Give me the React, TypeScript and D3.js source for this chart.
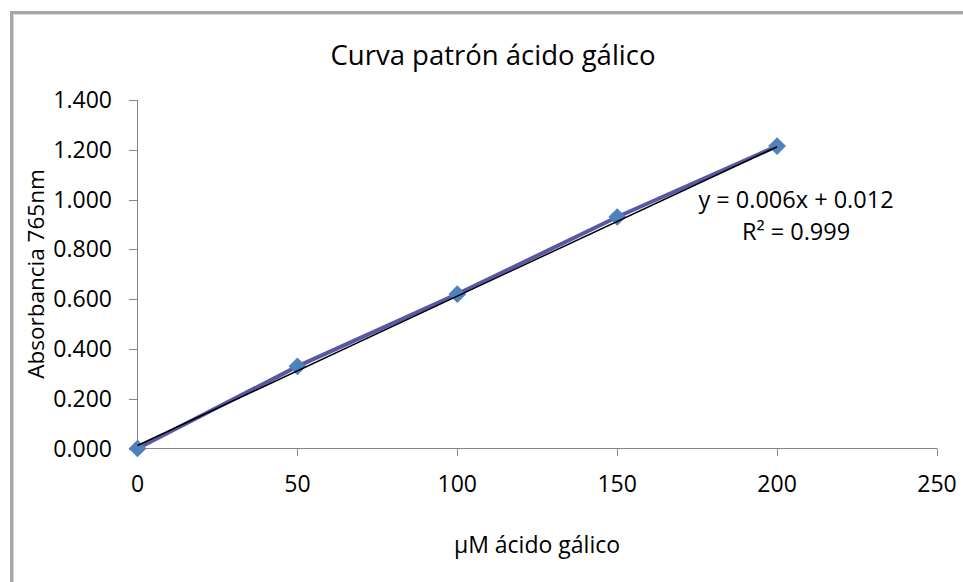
import React from 'react';
import * as d3 from 'd3';

const concentrations = [0, 50, 100, 150, 200];
const absorbances = [0, 0.33, 0.62, 0.93, 1.215];
const xTicks = [0, 50, 100, 150, 200, 250];
const yTicks = [0, 0.2, 0.4, 0.6, 0.8, 1.0, 1.2, 1.4];
const slope = 0.006;
const intercept = 0.012;

const font = '"Open Sans", Lato, sans-serif';

export default function App() {
  const width = 963;
  const height = 582;
  const x = d3.scaleLinear().domain([0, 250]).range([137.5, 937]);
  const y = d3.scaleLinear().domain([0, 1.4]).range([448.5, 100]);

  const pts = concentrations.map((c, i) => [c, absorbances[i]] as [number, number]);
  const line = d3
    .line<[number, number]>()
    .x((d) => x(d[0]))
    .y((d) => y(d[1]));
  const trend: [number, number][] = [
    [0, intercept],
    [200, slope * 200 + intercept],
  ];
  const diamond = d3.symbol().type(d3.symbolDiamond2).size(200)();

  return (
    <svg
      width={width}
      height={height}
      style={{ position: 'absolute', left: 0, top: 0, background: '#fff' }}
    >
      <rect x={11.5} y={12.5} width={1000} height={700} fill="none" stroke="#a6a6a6" strokeWidth={3} />
      <rect x={13.5} y={14.5} width={1000} height={700} fill="none" stroke="#d9d9d9" strokeWidth={1} />

      <text x={493} y={65} textAnchor="middle" fontFamily={font} fontSize={27.5} fill="#000">
        Curva patrón ácido gálico
      </text>

      {/* y axis */}
      <line x1={137.5} x2={137.5} y1={y(1.4)} y2={y(0)} stroke="#868686" />
      {yTicks.map((t) => (
        <g key={t}>
          <line x1={129} x2={137.5} y1={Math.round(y(t)) + 0.5} y2={Math.round(y(t)) + 0.5} stroke="#868686" />
          <text x={112} y={y(t)} dy="0.35em" textAnchor="end" fontFamily={font} fontSize={23} fill="#000">
            {d3.format('.3f')(t)}
          </text>
        </g>
      ))}

      {/* x axis */}
      <line x1={x(0)} x2={x(250)} y1={448.5} y2={448.5} stroke="#868686" />
      {xTicks.map((t) => (
        <g key={t}>
          <line x1={Math.round(x(t)) + 0.5} x2={Math.round(x(t)) + 0.5} y1={448.5} y2={456} stroke="#868686" />
          <text x={x(t)} y={492} textAnchor="middle" fontFamily={font} fontSize={23} fill="#000">
            {t}
          </text>
        </g>
      ))}

      <text
        transform={`translate(44, 274) rotate(-90)`}
        textAnchor="middle"
        fontFamily={font}
        fontSize={22.5}
        fill="#000"
      >
        Absorbancia 765nm
      </text>
      <text x={537} y={553} textAnchor="middle" fontFamily={font} fontSize={23} fill="#000">
        µM ácido gálico
      </text>

      <path d={line(pts) ?? ''} fill="none" stroke="#5858a4" strokeWidth={4} />
      {pts.map((p, i) => (
        <path key={i} d={diamond ?? ''} transform={`translate(${x(p[0])},${y(p[1])})`} fill="#4f81bd" />
      ))}
      <path d={line(trend) ?? ''} fill="none" stroke="#000" strokeWidth={1.5} />

      <text x={796} y={208} textAnchor="middle" fontFamily={font} fontSize={23.5} fill="#000">
        y = 0.006x + 0.012
      </text>
      <text x={796} y={240} textAnchor="middle" fontFamily={font} fontSize={23.5} fill="#000">
        R² = 0.999
      </text>
    </svg>
  );
}
